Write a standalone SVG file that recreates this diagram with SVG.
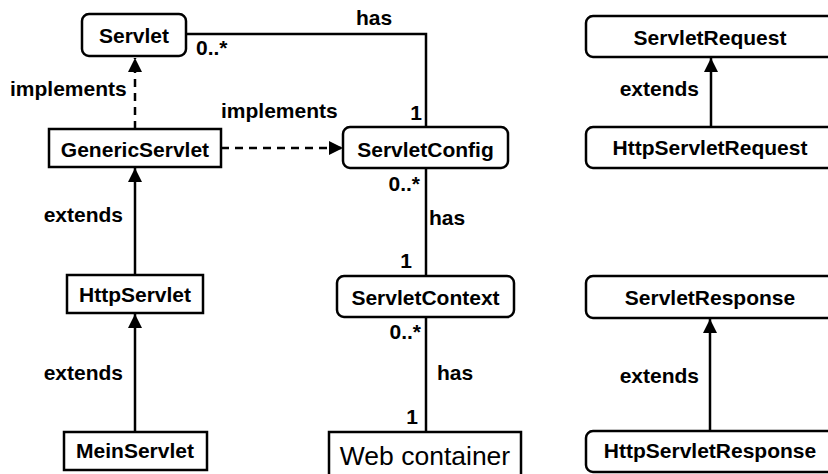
<svg xmlns="http://www.w3.org/2000/svg" width="828" height="474" viewBox="0 0 828 474">
  <defs>
    <marker id="tri" viewBox="0 0 14 14" refX="14" refY="7" markerWidth="14" markerHeight="14" markerUnits="userSpaceOnUse" orient="auto">
      <path d="M0,0 L14,7 L0,14 Z" fill="#000"/>
    </marker>
    <style>
      text { font-family: "Liberation Sans", Arial, Helvetica, sans-serif; fill: #000; }
      .lbl { font-size: 21px; font-weight: bold; }
      .name { font-size: 21px; font-weight: bold; text-anchor: middle; }
      .box { fill: #fff; stroke: #000; stroke-width: 2.5; }
      .line { fill: none; stroke: #000; stroke-width: 2.5; }
      .dash { stroke-dasharray: 8 6; }
      .r { text-anchor: end; }
    </style>
  </defs>
  <rect width="828" height="474" fill="#fff"/>

  <!-- connectors -->
  <g id="connectors">
    <!-- Servlet has ServletConfig -->
    <path class="line" d="M186,34 H426 V127"/>
    <text class="lbl" x="374" y="25" text-anchor="middle">has</text>
    <text class="lbl" x="196" y="55">0..*</text>
    <text class="lbl r" x="422" y="120">1</text>

    <!-- GenericServlet implements Servlet -->
    <path class="line dash" d="M135,129 V58" marker-end="url(#tri)"/>
    <text class="lbl" x="10" y="96">implements</text>

    <!-- GenericServlet implements ServletConfig -->
    <path class="line dash" d="M221,148 H343" marker-end="url(#tri)"/>
    <text class="lbl" x="221" y="118">implements</text>

    <!-- HttpServlet extends GenericServlet -->
    <path class="line" d="M135,275 V168" marker-end="url(#tri)"/>
    <text class="lbl r" x="123" y="222">extends</text>

    <!-- MeinServlet extends HttpServlet -->
    <path class="line" d="M135,432 V314" marker-end="url(#tri)"/>
    <text class="lbl r" x="123" y="380">extends</text>

    <!-- ServletContext has ServletConfig -->
    <path class="line" d="M426,168 V276"/>
    <text class="lbl r" x="420" y="191">0..*</text>
    <text class="lbl" x="429" y="225">has</text>
    <text class="lbl r" x="412" y="268">1</text>

    <!-- Web container has ServletContext -->
    <path class="line" d="M426,317 V432"/>
    <text class="lbl r" x="421" y="339">0..*</text>
    <text class="lbl" x="437" y="380">has</text>
    <text class="lbl r" x="418" y="424">1</text>

    <!-- HttpServletRequest extends ServletRequest -->
    <path class="line" d="M711,127 V58" marker-end="url(#tri)"/>
    <text class="lbl r" x="699" y="96">extends</text>

    <!-- HttpServletResponse extends ServletResponse -->
    <path class="line" d="M710,431 V319" marker-end="url(#tri)"/>
    <text class="lbl r" x="699" y="383">extends</text>
  </g>

  <!-- nodes -->
  <g id="servlet">
    <rect class="box" x="82" y="14" width="104" height="42" rx="7"/>
    <text class="name" x="134" y="43">Servlet</text>
  </g>
  <g id="genericservlet">
    <rect class="box" x="49" y="129" width="172" height="38"/>
    <text class="name" x="135" y="157">GenericServlet</text>
  </g>
  <g id="httpservlet">
    <rect class="box" x="67" y="275" width="136" height="38"/>
    <text class="name" x="135" y="302">HttpServlet</text>
  </g>
  <g id="meinservlet">
    <rect class="box" x="64" y="432" width="143" height="38"/>
    <text class="name" x="135" y="458">MeinServlet</text>
  </g>
  <g id="servletconfig">
    <rect class="box" x="343" y="127" width="165" height="41" rx="7"/>
    <text class="name" x="425.5" y="157">ServletConfig</text>
  </g>
  <g id="servletcontext">
    <rect class="box" x="337" y="276" width="177" height="41" rx="7"/>
    <text class="name" x="425.5" y="305">ServletContext</text>
  </g>
  <g id="webcontainer">
    <rect class="box" x="329" y="432" width="192" height="50"/>
    <text x="425" y="465" font-size="26.5" text-anchor="middle">Web container</text>
  </g>
  <g id="servletrequest">
    <rect class="box" x="586" y="16" width="260" height="41" rx="7"/>
    <text class="name" x="710" y="45">ServletRequest</text>
  </g>
  <g id="httpservletrequest">
    <rect class="box" x="586" y="127" width="260" height="41" rx="7"/>
    <text class="name" x="710" y="155">HttpServletRequest</text>
  </g>
  <g id="servletresponse">
    <rect class="box" x="586" y="276" width="260" height="42" rx="7"/>
    <text class="name" x="710" y="305">ServletResponse</text>
  </g>
  <g id="httpservletresponse">
    <rect class="box" x="586" y="431" width="260" height="41" rx="7"/>
    <text class="name" x="710" y="458">HttpServletResponse</text>
  </g>
</svg>
